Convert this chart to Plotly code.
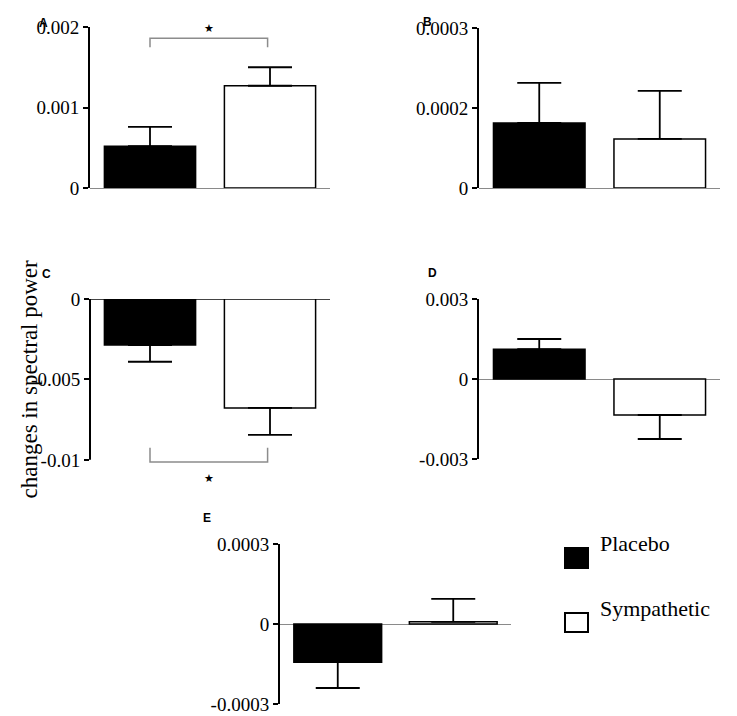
import plotly.graph_objects as go

# --- data ---------------------------------------------------------------------
GROUPS = ["Placebo", "Sympathetic"]
PANELS = ["A", "B", "C", "D", "E"]

MEAN_A = [0.00052, 0.00127]
SEM_A = [0.00024, 0.00023]
MEAN_B = [0.000122, 0.000092]
SEM_B = [0.000075, 0.00009]
MEAN_C = [-0.00286, -0.00677]
SEM_C = [0.00104, 0.00168]
MEAN_D = [0.00112, -0.00135]
SEM_D = [0.00038, 0.0009]
MEAN_E = [-0.000143, 0.000008]
SEM_E = [0.000097, 0.000086]

TICKS_A = [0, 0.001, 0.002]
LABELS_A = ["0", "0.001", "0.002"]
TICKS_B = [0, 0.00015, 0.0003]
LABELS_B = ["0", "0.0002", "0.0003"]
TICKS_C = [-0.01, -0.005, 0]
LABELS_C = ["-0.01", "-0.005", "0"]
TICKS_D = [-0.003, 0, 0.003]
LABELS_D = ["-0.003", "0", "0.003"]
TICKS_E = [-0.0003, 0, 0.0003]
LABELS_E = ["-0.0003", "0", "0.0003"]

# significance brackets: (bracket y, tip y, star y)
SIG_A = (0.00186, 0.00175, 0.00198)
SIG_C = (-0.01013, -0.00925, -0.01115)

Y_TITLE = "changes in spectral power"

# --- layout helpers -----------------------------------------------------------
W, H = 737, 716
OFF = 8  # page body margin: the figure sits 8px in from the window corner
SERIF = "Liberation Serif"
SANS = "Liberation Sans"


def px_x(p):
    return (p - OFF) / W


def px_y(p):
    return 1 - (p - OFF) / H


panels = [
    # means, sems, ticks, labels, range, x domain px, y domain px, letter pos px, zero colour
    (MEAN_A, SEM_A, TICKS_A, LABELS_A, [0, 0.002], (90, 330), (27, 188), (37, 14), "#8a8a8a"),
    (MEAN_B, SEM_B, TICKS_B, LABELS_B, [0, 0.0003], (479, 720), (28, 188), (427, 13), "#8a8a8a"),
    (MEAN_C, SEM_C, TICKS_C, LABELS_C, [-0.0115, 0], (90, 330), (299, 484), (40, 274), "#444444"),
    (MEAN_D, SEM_D, TICKS_D, LABELS_D, [-0.003, 0.003], (479, 720), (299, 459), (432, 273), "#8a8a8a"),
    (MEAN_E, SEM_E, TICKS_E, LABELS_E, [-0.0003, 0.0003], (280, 511), (544, 704), (201, 527), "#8a8a8a"),
]

fig = go.Figure()
layout = {}
annotations = []
shapes = []

for i, (means, sems, ticks, labels, rng, xd, yd, letter, zc) in enumerate(panels):
    n = i + 1
    xa = "x" if n == 1 else f"x{n}"
    ya = "y" if n == 1 else f"y{n}"
    up = [s if m >= 0 else 0 for m, s in zip(means, sems)]
    down = [0 if m >= 0 else s for m, s in zip(means, sems)]
    fig.add_trace(
        go.Bar(
            x=[0, 1],
            y=means,
            width=0.76,
            marker=dict(color=["black", "white"], line=dict(color="black", width=1.5)),
            error_y=dict(
                type="data",
                symmetric=False,
                array=up,
                arrayminus=down,
                color="black",
                thickness=1.8,
                width=22,
            ),
            xaxis=xa,
            yaxis=ya,
            showlegend=False,
            hovertext=GROUPS,
        )
    )
    layout["xaxis" if n == 1 else f"xaxis{n}"] = dict(
        domain=[px_x(xd[0]), px_x(xd[1])],
        range=[-0.5, 1.5],
        anchor=ya,
        showticklabels=False,
        showgrid=False,
        zeroline=False,
        showline=False,
        ticks="",
        automargin=False,
        fixedrange=True,
    )
    is_c = PANELS[i] == "C"
    layout["yaxis" if n == 1 else f"yaxis{n}"] = dict(
        domain=[px_y(yd[1]), px_y(yd[0])],
        range=rng,
        anchor=xa,
        tickvals=ticks,
        ticktext=labels,
        ticks="outside",
        ticklen=5,
        tickwidth=1.5,
        tickcolor="black",
        tickfont=dict(family=SERIF, size=19, color="black"),
        showgrid=False,
        showline=not is_c,
        linecolor="black",
        linewidth=2,
        zeroline=True,
        zerolinecolor=zc,
        zerolinewidth=1.2,
        automargin=False,
        fixedrange=True,
    )
    if is_c:
        # axis line only down to the last tick; the range goes lower for the bracket
        shapes.append(
            dict(
                type="line",
                xref=f"{xa} domain",
                yref=ya,
                x0=0,
                x1=0,
                y0=ticks[0],
                y1=ticks[-1],
                line=dict(color="black", width=2),
            )
        )
    annotations.append(
        dict(
            text=f"<b>{PANELS[i]}</b>",
            x=px_x(letter[0]),
            y=px_y(letter[1]),
            xref="paper",
            yref="paper",
            showarrow=False,
            font=dict(family=SANS, size=12, color="black"),
        )
    )

# --- significance brackets ----------------------------------------------------
for (top, tip, star), xa, ya in [(SIG_A, "x", "y"), (SIG_C, "x3", "y3")]:
    fig.add_trace(
        go.Scatter(
            x=[0, 0, 0.98, 0.98],
            y=[tip, top, top, tip],
            mode="lines",
            line=dict(color="#8c8c8c", width=1.5),
            xaxis=xa,
            yaxis=ya,
            showlegend=False,
            hoverinfo="skip",
        )
    )
    annotations.append(
        dict(
            text="★",
            x=0.49,
            y=star,
            xref=xa,
            yref=ya,
            showarrow=False,
            font=dict(family="DejaVu Sans", size=11, color="black"),
        )
    )

# --- y title -------------------------------------------------------------------
annotations.append(
    dict(
        text=Y_TITLE,
        x=px_x(14),
        y=px_y(379),
        xref="paper",
        yref="paper",
        textangle=-90,
        showarrow=False,
        font=dict(family=SERIF, size=23, color="black"),
    )
)

# --- legend (drawn by hand for the large swatches) ----------------------------
for name, fill, (top, bottom) in zip(GROUPS, ["black", "white"], [(548, 568), (613, 632)]):
    shapes.append(
        dict(
            type="rect",
            xref="paper",
            yref="paper",
            x0=px_x(565),
            x1=px_x(588),
            y0=px_y(bottom),
            y1=px_y(top),
            fillcolor=fill,
            line=dict(color="black", width=2),
        )
    )
    annotations.append(
        dict(
            text=name,
            x=px_x(598),
            y=px_y((top + bottom) / 2),
            xref="paper",
            yref="paper",
            xanchor="left",
            showarrow=False,
            font=dict(family=SERIF, size=22, color="black"),
        )
    )

fig.update_layout(
    **layout,
    annotations=annotations,
    shapes=shapes,
    width=W,
    height=H,
    margin=dict(l=0, r=0, t=0, b=0, pad=0),
    paper_bgcolor="white",
    plot_bgcolor="white",
    showlegend=False,
)

fig.write_html("out.html")
